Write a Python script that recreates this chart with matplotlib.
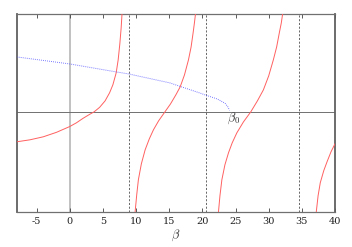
import matplotlib
matplotlib.use("Agg")
import matplotlib.pyplot as plt

plt.rcParams['mathtext.fontset'] = 'cm'

# Data
b1_x = [-8, -6, -4, -2, 0, 1, 2, 3, 3.67, 4.5, 5.33, 6.0, 6.5, 7.0, 7.3, 7.55, 7.75, 7.88]
b1_y = [-0.30, -0.28, -0.25, -0.205, -0.147, -0.11, -0.065, -0.025, 0.0, 0.045, 0.11,
        0.19, 0.27, 0.39, 0.52, 0.68, 0.84, 0.98]
b2_x = [9.86, 10.1, 10.35, 10.8, 11.37, 12.0, 12.62, 13.4, 14.3, 15.2, 16.0, 16.65,
        17.3, 17.9, 18.3, 18.6, 18.8, 18.96]
b2_y = [-1.0, -0.83, -0.68, -0.52, -0.38, -0.27, -0.18, -0.09, -0.005, 0.08, 0.17, 0.25,
        0.37, 0.52, 0.65, 0.79, 0.89, 0.98]
b3_x = [22.43, 22.65, 22.94, 23.4, 23.94, 24.5, 25.2, 26.2, 27.3, 28.3, 29.2, 30.0,
        30.7, 31.2, 31.6, 31.9, 32.1]
b3_y = [-1.0, -0.84, -0.68, -0.53, -0.41, -0.31, -0.21, -0.10, 0.0, 0.11, 0.22, 0.36,
        0.52, 0.65, 0.79, 0.89, 0.98]
b4_x = [37.18, 37.45, 37.78, 38.3, 38.8, 39.4, 40]
b4_y = [-1.0, -0.84, -0.71, -0.59, -0.50, -0.40, -0.32]
blue_x = [-8, 0, 7.0, 8.86, 15.1, 16.65, 19.7, 20.4, 22.2, 23.4, 23.8, 24.1]
blue_y = [0.55, 0.48, 0.40, 0.38, 0.29, 0.255, 0.187, 0.17, 0.13, 0.087, 0.055, 0.015]
asymptotes = [8.86, 20.57, 34.56]
xticks = [-5, 0, 5, 10, 15, 20, 25, 30, 35, 40]

fig = plt.figure(figsize=(3.52, 2.47), dpi=100)
ax = fig.add_axes([16.7/352, 1-211.7/247, (335-16.7)/352, (211.7-14)/247])
ax.set_xlim(-8, 40)
ax.set_ylim(-1.0, 0.98)

ax.axvline(0, color='#b0b0b0', lw=1.1, zorder=1)
ax.axhline(0, color='#707070', lw=0.7, zorder=1)
for a in asymptotes:
    ax.axvline(a, color='#505050', lw=0.6, ls=(0, (2.5, 2)), zorder=1)

for xs, ys in [(b1_x, b1_y), (b2_x, b2_y), (b3_x, b3_y), (b4_x, b4_y)]:
    ax.plot(xs, ys, color='#ff6060', lw=0.7, zorder=3)
ax.plot(blue_x, blue_y, color='#5a5aff', lw=0.7, ls=(0, (0.8, 1.3)), zorder=3)

ax.text(24.7, -0.06, r'$\beta_0$', ha='center', va='center', fontsize=9, color='#303030')

ax.set_xticks(xticks)
ax.set_xticklabels([str(t) for t in xticks], family='DejaVu Serif', fontsize=7)
ax.set_yticks([])
ax.tick_params(axis='x', direction='in', length=3, width=0.6, color='#404040',
               top=True, bottom=True, pad=4, labelcolor='#202020')
ax.set_xlabel(r'$\beta$', fontsize=9, labelpad=1, color='#303030')

for s in ['left', 'right']:
    ax.spines[s].set_linewidth(1.3)
    ax.spines[s].set_color('#606060')
for s in ['top', 'bottom']:
    ax.spines[s].set_linewidth(0.9)
    ax.spines[s].set_color('#707070')

fig.savefig('out.png', dpi=100)
